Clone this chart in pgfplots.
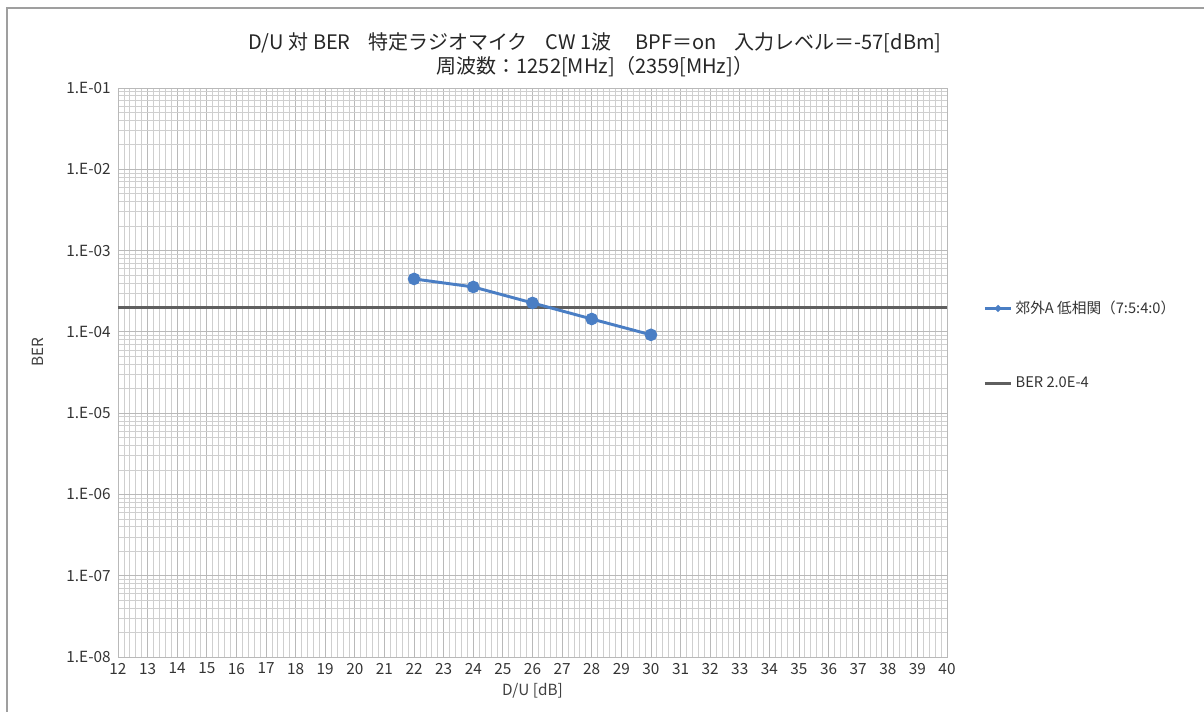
\documentclass[border=0pt]{standalone}
\usepackage{fontspec}
\setmainfont{Noto Sans CJK JP}
\usepackage{pgfplots}
\pgfplotsset{compat=1.18}
\definecolor{serblue}{HTML}{4A7EC4}
\definecolor{bergray}{HTML}{5F5F5F}
\begin{document}
\begin{tikzpicture}
\useasboundingbox (-88.5pt,-40.5pt) rectangle (814.5pt,492.75pt);
\draw[gray!75, line width=1.1pt] (-83.25pt,-80pt) -- (-83.25pt,486.75pt) -- (860pt,486.75pt);
\begin{axis}[
  at={(0,0)}, anchor=south west,
  scale only axis, width=621.75pt, height=426.75pt,
  ymode=log, log basis y=10,
  xmin=12, xmax=40, ymin=1e-8, ymax=1e-1,
  xtick={12,13,...,40},
  minor x tick num=4,
  ytick={1e-8,1e-7,1e-6,1e-5,1e-4,1e-3,1e-2,1e-1},
  yticklabels={1.E-08,1.E-07,1.E-06,1.E-05,1.E-04,1.E-03,1.E-02,1.E-01},
  minor ytick={2e-8,3e-8,4e-8,5e-8,6e-8,7e-8,8e-8,9e-8,
               2e-7,3e-7,4e-7,5e-7,6e-7,7e-7,8e-7,9e-7,
               2e-6,3e-6,4e-6,5e-6,6e-6,7e-6,8e-6,9e-6,
               2e-5,3e-5,4e-5,5e-5,6e-5,7e-5,8e-5,9e-5,
               2e-4,3e-4,4e-4,5e-4,6e-4,7e-4,8e-4,9e-4,
               2e-3,3e-3,4e-3,5e-3,6e-3,7e-3,8e-3,9e-3,
               2e-2,3e-2,4e-2,5e-2,6e-2,7e-2,8e-2,9e-2},
  grid=both,
  major grid style={draw=gray!55, line width=0.6pt},
  minor grid style={draw=gray!38, line width=0.6pt},
  major tick length=0pt, minor tick length=0pt,
  axis line style={draw=gray!55, line width=0.6pt},
  /pgf/number format/assume math mode=true,
  ticklabel style={font=\fontsize{11.5}{13}\selectfont, text=black!80},
  xticklabel style={yshift=-1pt},
  yticklabel style={xshift=-2pt},
  xlabel={D/U [dB]},
  ylabel={BER},
  label style={font=\fontsize{11.5}{13}\selectfont, text=black!75},
  xlabel style={at={(rel axis cs:0.5,0)}, anchor=center, yshift=-25pt},
  ylabel style={at={(rel axis cs:-0.0965,0.536)}, anchor=center},
  legend style={at={(rel axis cs:1.0434,0.5475)}, anchor=west, draw=none, fill=none,
    inner sep=0pt, row sep=42pt, font=\fontsize{11}{13}\selectfont, text=black!80,
    /tikz/every even column/.append style={column sep=2pt}},
  legend cell align=left,
  legend image code/.code={\draw[#1] (0pt,0pt) -- (20pt,0pt); \path[#1, mark size=1.2pt] plot coordinates {(10pt,0pt)};},
  clip=false,
]
\addplot[color=bergray, line width=2.3pt, forget plot] coordinates {(12,2.0e-4) (40,2.0e-4)};
\addplot[color=serblue, line width=2.2pt, mark=*, mark size=3.6pt, mark options={fill=serblue, draw=serblue}]
  coordinates {(22,4.48e-4) (24,3.57e-4) (26,2.27e-4) (28,1.44e-4) (30,9.2e-5)};
\addlegendentry{郊外A 低相関（7:5:4:0）}
\addlegendimage{color=bergray, line width=2.3pt, mark=none}
\addlegendentry{BER 2.0E-4}
\end{axis}
\node[font=\fontsize{15}{17}\selectfont, text=black!85] at (357.75pt,460.5pt) {D/U 対 BER\hspace{0.9em}特定ラジオマイク\hspace{0.9em}CW 1波\hspace{1.2em}BPF＝on\hspace{0.9em}入力レベル＝-57[dBm]};
\node[font=\fontsize{15}{17}\selectfont, text=black!85] at (357.75pt,442.5pt) {周波数：1252[MHz]（2359[MHz]）};
\end{tikzpicture}
\end{document}
